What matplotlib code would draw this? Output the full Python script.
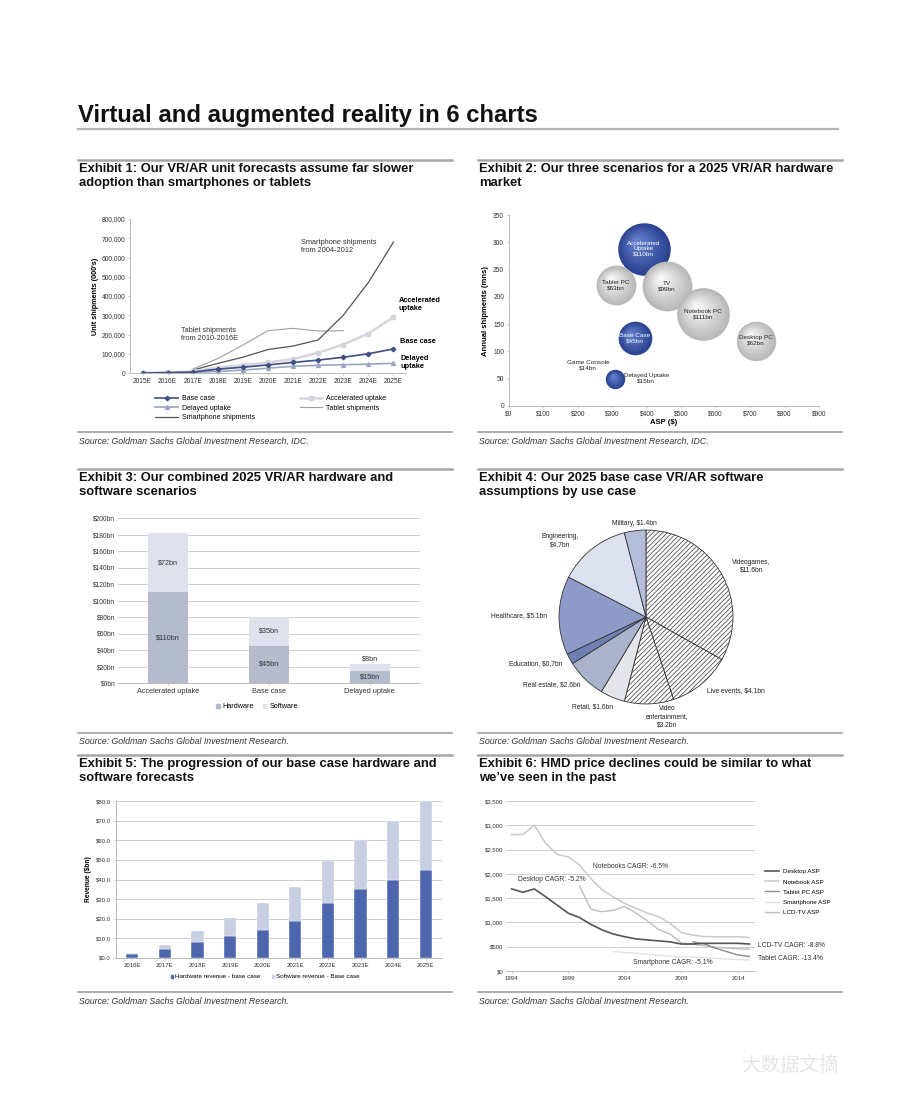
import numpy as np
import matplotlib
matplotlib.use('Agg')
import matplotlib.pyplot as plt
from matplotlib.lines import Line2D
from matplotlib.patches import Patch
from matplotlib.transforms import offset_copy
import matplotlib.colors as mcolors

plt.rcParams['font.family'] = ['Liberation Sans', 'DejaVu Sans']
plt.rcParams['hatch.color'] = '#9a9a9a'
plt.rcParams['hatch.linewidth'] = 0.5

W, H = 900, 1110
HEAD = ['Liberation Sans', 'DejaVu Sans']

# ---- Exhibit 1: unit shipments (000's)
years1 = ['2015E', '2016E', '2017E', '2018E', '2019E', '2020E', '2021E', '2022E', '2023E', '2024E', '2025E']
base_case = [0, 2000, 5000, 20000, 30000, 42000, 55000, 67000, 82000, 100000, 125000]
accelerated = [0, 3000, 8000, 28000, 40000, 55000, 72000, 105000, 148000, 205000, 290000]
delayed = [0, 1000, 3000, 8000, 15000, 25000, 35000, 40000, 43000, 46000, 50000]
smartphone = [15000, 50000, 82000, 122000, 140000, 172000, 300000, 470000, 680000]   # 2004-2012
tablet = [20000, 75000, 145000, 220000, 232000, 218000, 220000]                      # 2010-2016E

# ---- Exhibit 2: 2025 hardware market bubbles
bub_names = ['Accelerated\nUptake\n$110bn', 'Tablet PC\n$63bn', 'TV\n$99bn', 'Notebook PC\n$111bn',
             'Desktop PC\n$62bn', 'Base Case\n$45bn', '']
bub_asp = [391, 311, 459, 564, 716, 365, 309]
bub_units = [288, 221, 220, 168, 120, 124, 49]
bub_value = [110, 63, 99, 111, 62, 45, 15]
bub_vr = [True, False, False, False, False, True, True]

# ---- Exhibit 3: combined scenarios
scen = ['Accelerated uptake', 'Base case', 'Delayed uptake']
scen_hw = [110, 45, 15]
scen_sw = [72, 35, 8]

# ---- Exhibit 4: software by use case
uses = ['Videogames,\n$11.6bn', 'Live events, $4.1bn', 'Video\nentertainment,\n$3.2bn', 'Retail, $1.6bn',
        'Real estate, $2.6bn', 'Education, $0.7bn', 'Healthcare, $5.1bn', 'Engineering,\n$4.7bn',
        'Military, $1.4bn']
use_val = [11.6, 4.1, 3.2, 1.6, 2.6, 0.7, 5.1, 4.7, 1.4]

# ---- Exhibit 5: base case progression ($bn)
years5 = ['2016E', '2017E', '2018E', '2019E', '2020E', '2021E', '2022E', '2023E', '2024E', '2025E']
hw_rev = [1.9, 4.4, 8.0, 11.0, 14.3, 19.0, 28.0, 35.2, 39.6, 44.6]
sw_rev = [0.4, 2.3, 5.7, 9.4, 13.5, 17.4, 21.3, 24.8, 30.3, 35.2]

# ---- Exhibit 6: ASPs
yrs6 = list(range(1994, 2016))
desktop_asp = [1690, 1620, 1690, 1530, 1360, 1190, 1100, 960, 845, 760, 705, 660, 640, 620, 600, 555,
               555, 570, 570, 570, 570, 555]
notebook_asp = [2810, 2810, 3000, 2630, 2400, 2350, 2180, 1900, 1670, 1520, 1390, 1290, 1190, 1120, 980,
                790, 740, 710, 705, 705, 705, 690]
yrs_lcd = list(range(2000, 2016))
lcd_asp = [1750, 1270, 1220, 1250, 1330, 1190, 1030, 850, 760, 580, 550, 520, 490, 470, 460, 450]
yrs_tab = list(range(2010, 2016))
tablet_asp = [600, 560, 470, 400, 330, 300]
yrs_sp = list(range(2003, 2016))
smart_asp = [400, 380, 365, 345, 320, 305, 290, 285, 270, 260, 245, 235, 225]


fig = plt.figure(figsize=(9, 11.1), dpi=100)
fig.patch.set_facecolor('white')


def fx(x):
    return x / W


def fy(y):
    return 1 - y / H


def px_axes(x0, y0, x1, y1):
    return fig.add_axes([fx(x0), fy(y1), (x1 - x0) / W, (y1 - y0) / H])


def ftext(x, y, s, **kw):
    return fig.text(fx(x), fy(y), s, **kw)


def rule(x0, x1, y, lw=1.5, color='#a6a6a6'):
    fig.add_artist(Line2D([fx(x0), fx(x1)], [fy(y), fy(y)], transform=fig.transFigure, color=color, lw=lw))


def style(ax, grid=False):
    for s in ['top', 'right']:
        ax.spines[s].set_visible(False)
    ax.spines['left'].set_color('#b0b0b0')
    ax.spines['bottom'].set_color('#b0b0b0')
    ax.spines['left'].set_linewidth(0.6)
    ax.spines['bottom'].set_linewidth(0.6)
    ax.tick_params(labelsize=4.8, length=1.5, width=0.5, color='#b0b0b0', labelcolor='#333333', pad=2)
    if grid:
        ax.yaxis.grid(True, color='#c8c8c8', lw=0.6)
        ax.set_axisbelow(True)


# page title and exhibit headers
ftext(78, 115, 'Virtual and augmented reality in 6 charts', fontsize=17.2, fontweight='bold',
      family=HEAD, va='center', color='#111111')
rule(78, 838, 129, lw=1.6, color='#b5b5b5')

headers = [
    (78, 160, 'Exhibit 1: Our VR/AR unit forecasts assume far slower\nadoption than smartphones or tablets'),
    (478, 160, 'Exhibit 2: Our three scenarios for a 2025 VR/AR hardware\nmarket'),
    (78, 469, 'Exhibit 3: Our combined 2025 VR/AR hardware and\nsoftware scenarios'),
    (478, 469, 'Exhibit 4: Our 2025 base case VR/AR software\nassumptions by use case'),
    (78, 755, 'Exhibit 5: The progression of our base case hardware and\nsoftware forecasts'),
    (478, 755, 'Exhibit 6: HMD price declines could be similar to what\nwe\u2019ve seen in the past'),
]
for x, y, s in headers:
    rule(x, x + (374 if x < 300 else 364), y, lw=1.8)
    ftext(x + 1, y + 3, s, fontsize=9.4, fontweight='bold', family=HEAD, va='top', color='#111111',
          linespacing=1.2)

sources = [
    (78, 432, 'Source: Goldman Sachs Global Investment Research, IDC.'),
    (478, 432, 'Source: Goldman Sachs Global Investment Research, IDC.'),
    (78, 733, 'Source: Goldman Sachs Global Investment Research.'),
    (478, 733, 'Source: Goldman Sachs Global Investment Research.'),
    (78, 992, 'Source: Goldman Sachs Global Investment Research.'),
    (478, 992, 'Source: Goldman Sachs Global Investment Research.'),
]
for x, y, s in sources:
    rule(x, x + (374 if x < 300 else 364), y, lw=1.2, color='#a0a0a0')
    ftext(x + 1, y + 9, s, fontsize=6.3, style='italic', va='center', color='#333333')

# ---------------- Exhibit 1
ax1 = px_axes(130, 219, 406, 373)
style(ax1)
xi = np.arange(len(years1))
ax1.plot(xi[2:2 + len(tablet)], tablet, color='#a0a0a0', lw=0.8)
ax1.plot(xi[2:2 + len(smartphone)], smartphone, color='#555555', lw=0.9)
ax1.plot(xi, delayed, color='#9aa6c2', lw=1.2, marker='^', ms=2.8, mec='#9aa6c2')
ax1.plot(xi, accelerated, color='#d3d6dc', lw=1.8, marker='s', ms=3.2, mec='#d3d6dc')
ax1.plot(xi, base_case, color='#3f4f86', lw=1.2, marker='D', ms=2.3, mec='#3f4f86')
ax1.set_xlim(-0.5, 10.5)
ax1.set_ylim(0, 800000)
ax1.set_xticks(xi)
ax1.set_xticklabels(years1)
ax1.set_yticks(np.arange(0, 800001, 100000))
ax1.yaxis.set_major_formatter(matplotlib.ticker.FuncFormatter(lambda v, p: f'{int(v):,}'))
ax1.set_ylabel("Unit shipments (000's)", fontsize=5.2, fontweight='bold', labelpad=2)
ax1.text(6.3, 655000, 'Smartphone shipments\nfrom 2004-2012', fontsize=5.3, va='center', color='#333333')
ax1.text(1.55, 200000, 'Tablet shipments\nfrom 2010-2016E', fontsize=5.3, va='center', color='#333333')
ax1.text(10.2, 357000, 'Accelerated\nuptake', fontsize=5.3, fontweight='bold', va='center', clip_on=False)
ax1.text(10.25, 163000, 'Base case', fontsize=5.3, fontweight='bold', va='center', clip_on=False)
ax1.text(10.3, 55000, 'Delayed\nuptake', fontsize=5.3, fontweight='bold', va='center', clip_on=False)
h1 = [Line2D([], [], color='#3f4f86', lw=1.2, marker='D', ms=2.3),
      Line2D([], [], color='#9aa6c2', lw=1.2, marker='^', ms=2.8),
      Line2D([], [], color='#555555', lw=0.9),
      Line2D([], [], color='#d3d6dc', lw=1.8, marker='s', ms=3.2),
      Line2D([], [], color='#a0a0a0', lw=0.8)]
l1 = ['Base case', 'Delayed uptake', 'Smartphone shipments', 'Accelerated uptake', 'Tablet shipments']
fig.legend(h1, l1, loc='upper left', bbox_to_anchor=(fx(152), fy(392)), ncol=2, fontsize=5, frameon=False,
           handlelength=3.2, columnspacing=6.5, labelspacing=0.35, handletextpad=0.6, borderpad=0)

# ---------------- Exhibit 2
ax2 = px_axes(509, 215, 819, 406)
style(ax2)
ax2.set_xlim(0, 900)
ax2.set_ylim(0, 350)
ax2.set_xticks(np.arange(0, 901, 100))
ax2.set_xticklabels([f'${v}' for v in range(0, 901, 100)])
ax2.set_yticks(np.arange(0, 351, 50))
ax2.set_xlabel('ASP ($)', fontsize=5.5, fontweight='bold', labelpad=0.5)
ax2.set_ylabel('Annual shipments (mns)', fontsize=5.5, fontweight='bold', labelpad=3)
n_layers = 14
for name, xa, yu, val, vr in zip(bub_names, bub_asp, bub_units, bub_value, bub_vr):
    s0 = val * 13
    r_pt = np.sqrt(s0) / 2
    if vr:
        c_out, c_in = np.array(mcolors.to_rgb('#2a4290')), np.array(mcolors.to_rgb('#6c88d4'))
    else:
        c_out, c_in = np.array(mcolors.to_rgb('#b8b8b8')), np.array(mcolors.to_rgb('#ffffff'))
    for k in range(n_layers):
        f = k / n_layers
        col = c_out * (1 - f) + c_in * f
        tr = offset_copy(ax2.transData, fig=fig, x=-0.3 * r_pt * f, y=0.35 * r_pt * f, units='points')
        ax2.scatter([xa], [yu], s=s0 * (1 - f) ** 2, color=col, transform=tr, lw=0, zorder=3)
    ax2.text(xa, yu, name, fontsize=4.6, ha='center', va='center', zorder=5,
             color='white' if vr else '#222222', linespacing=1.15)
ax2.text(230, 75, 'Game Console\n$14bn', fontsize=4.6, ha='center', va='center', color='#222222')
ax2.text(398, 51, 'Delayed Uptake\n$15bn', fontsize=4.6, ha='center', va='center', color='#222222')

# ---------------- Exhibit 3
ax3 = px_axes(118, 518, 420, 683)
style(ax3, grid=True)
xs3 = np.arange(len(scen))
ax3.bar(xs3, scen_hw, width=0.4, color='#b3bbcd')
ax3.bar(xs3, scen_sw, width=0.4, bottom=scen_hw, color='#dfe2ec')
for i in range(len(scen)):
    ax3.text(i, scen_hw[i] / 2, f'${scen_hw[i]}bn', fontsize=5.2, ha='center', va='center', color='#333333')
    if scen_sw[i] > 15:
        ax3.text(i, scen_hw[i] + scen_sw[i] / 2, f'${scen_sw[i]}bn', fontsize=5.2, ha='center',
                 va='center', color='#333333')
    else:
        ax3.text(i, scen_hw[i] + scen_sw[i] + 6, f'${scen_sw[i]}bn', fontsize=5.2, ha='center',
                 va='center', color='#333333')
ax3.set_xlim(-0.5, 2.5)
ax3.set_ylim(0, 200)
ax3.set_xticks(xs3)
ax3.set_xticklabels(scen, fontsize=5.3)
ax3.set_yticks(np.arange(0, 201, 20))
ax3.set_yticklabels([f'${v}bn' for v in range(0, 201, 20)])
ax3.spines['left'].set_visible(False)
ax3.tick_params(axis='y', length=0)
fig.legend([Patch(color='#b3bbcd'), Patch(color='#dfe2ec')], ['Hardware', 'Software'], loc='center',
           bbox_to_anchor=(fx(257), fy(707)), ncol=2, fontsize=5.2, frameon=False, handlelength=0.5,
           handleheight=0.5, handletextpad=0.4, columnspacing=1.2)

# ---------------- Exhibit 4
ax4 = px_axes(546, 517, 746, 717)
pie_cols = ['white', 'white', 'white', '#e4e6ec', '#aab3cb', '#6e7fb4', '#8e9ac8', '#dde1ef', '#b3bcd8']
pie_hatch = ['///////', '///////', '///////', None, None, None, None, None, None]
wedges, _ = ax4.pie(use_val, colors=pie_cols, startangle=90, counterclock=False, radius=1,
                    wedgeprops=dict(edgecolor='#333333', linewidth=0.6))
for w, h in zip(wedges, pie_hatch):
    if h:
        w.set_hatch(h)
ax4.set_xlim(-1.15, 1.15)
ax4.set_ylim(-1.15, 1.15)
ax4.set_aspect('equal')
lab_dist = [1.15, 1.1, 1.15, 1.12, 1.08, 1.1, 1.14, 1.12, 1.08]
lab_dx = [0, 0, 0.2, 0.05, 0, 0, 0, -0.08, 0]
for w, lab, d, dx in zip(wedges, uses, lab_dist, lab_dx):
    ang = np.deg2rad((w.theta1 + w.theta2) / 2)
    x, y = d * np.cos(ang) + dx, d * np.sin(ang)
    ha = 'left' if x > 0.3 else ('right' if x < -0.3 else 'center')
    ax4.text(x, y, lab, fontsize=4.8, ha=ha, va='center', multialignment='center', clip_on=False,
             color='#222222')

# ---------------- Exhibit 5
ax5 = px_axes(116, 801, 442, 958)
style(ax5, grid=True)
xs5 = np.arange(len(years5))
ax5.bar(xs5, hw_rev, width=0.37, color='#4e66ae', edgecolor='white', lw=0.3)
ax5.bar(xs5, sw_rev, width=0.37, bottom=hw_rev, color='#c8cfe2', edgecolor='white', lw=0.3)
ax5.set_xlim(-0.5, 9.5)
ax5.set_ylim(0, 80)
ax5.set_xticks(xs5)
ax5.set_xticklabels(years5, fontsize=4.3)
ax5.set_yticks(np.arange(0, 81, 10))
ax5.set_yticklabels([f'${v:.1f}' for v in range(0, 81, 10)], fontsize=4.3)
ax5.set_ylabel('Revenue ($bn)', fontsize=4.8, fontweight='bold', labelpad=3)
fig.legend([Patch(color='#4e66ae'), Patch(color='#c8cfe2')],
           ['Hardware revenue - base case', 'Software revenue - Base case'], loc='center',
           bbox_to_anchor=(fx(265), fy(977)), ncol=2, fontsize=4.5, frameon=False, handlelength=0.4,
           handleheight=0.4, handletextpad=0.3, columnspacing=1.8)

# ---------------- Exhibit 6
ax6 = px_axes(506, 801, 755, 971)
style(ax6, grid=True)
ax6.plot(yrs6, notebook_asp, color='#c9c9c9', lw=1.1)
ax6.plot(yrs_lcd, lcd_asp, color='#bdbdbd', lw=1.0)
ax6.plot(yrs_sp, smart_asp, color='#e2e2e2', lw=1.0)
ax6.plot(yrs_tab, tablet_asp, color='#8c8c8c', lw=1.0)
ax6.plot(yrs6, desktop_asp, color='#555555', lw=1.2)
ax6.set_xlim(1993.5, 2015.5)
ax6.set_ylim(0, 3500)
ax6.set_xticks([1994, 1999, 2004, 2009, 2014])
ax6.set_yticks(np.arange(0, 3501, 500))
ax6.set_yticklabels([f'${v:,}' for v in range(0, 3501, 500)], fontsize=4.3)
ax6.tick_params(axis='x', labelsize=4.3)
ax6.spines['left'].set_visible(False)
ax6.tick_params(axis='y', length=0)
ax6.text(2001.2, 2160, 'Notebooks CAGR: -6.5%', fontsize=4.9, va='center', color='#333333')
ax6.text(1994.6, 1890, 'Desktop CAGR: -5.2%', fontsize=4.9, va='center', color='#333333')
ax6.text(2004.7, 175, 'Smartphone CAGR: -5.1%', fontsize=4.9, va='center', color='#333333')
ax6.text(2015.8, 515, 'LCD-TV CAGR: -8.8%', fontsize=4.9, va='center', color='#333333', clip_on=False)
ax6.text(2015.8, 260, 'Tablet CAGR: -13.4%', fontsize=4.9, va='center', color='#333333', clip_on=False)
h6 = [Line2D([], [], color='#555555', lw=1.2), Line2D([], [], color='#c9c9c9', lw=1.1),
      Line2D([], [], color='#8c8c8c', lw=1.0), Line2D([], [], color='#e2e2e2', lw=1.0),
      Line2D([], [], color='#bdbdbd', lw=1.0)]
fig.legend(h6, ['Desktop ASP', 'Notebook ASP', 'Tablet PC ASP', 'Smartphone ASP', 'LCD-TV ASP'],
           loc='upper left', bbox_to_anchor=(fx(762), fy(866)), fontsize=4.5, frameon=False,
           handlelength=2.2, labelspacing=0.75, handletextpad=0.6, borderpad=0)

# faint watermark
ftext(790, 1065, '大数据文摘', fontsize=14, ha='center', va='center', color='#e6e6e6',
      family=['Noto Sans CJK SC', 'DejaVu Sans'])

fig.savefig('out.png', dpi=100, facecolor='white')
